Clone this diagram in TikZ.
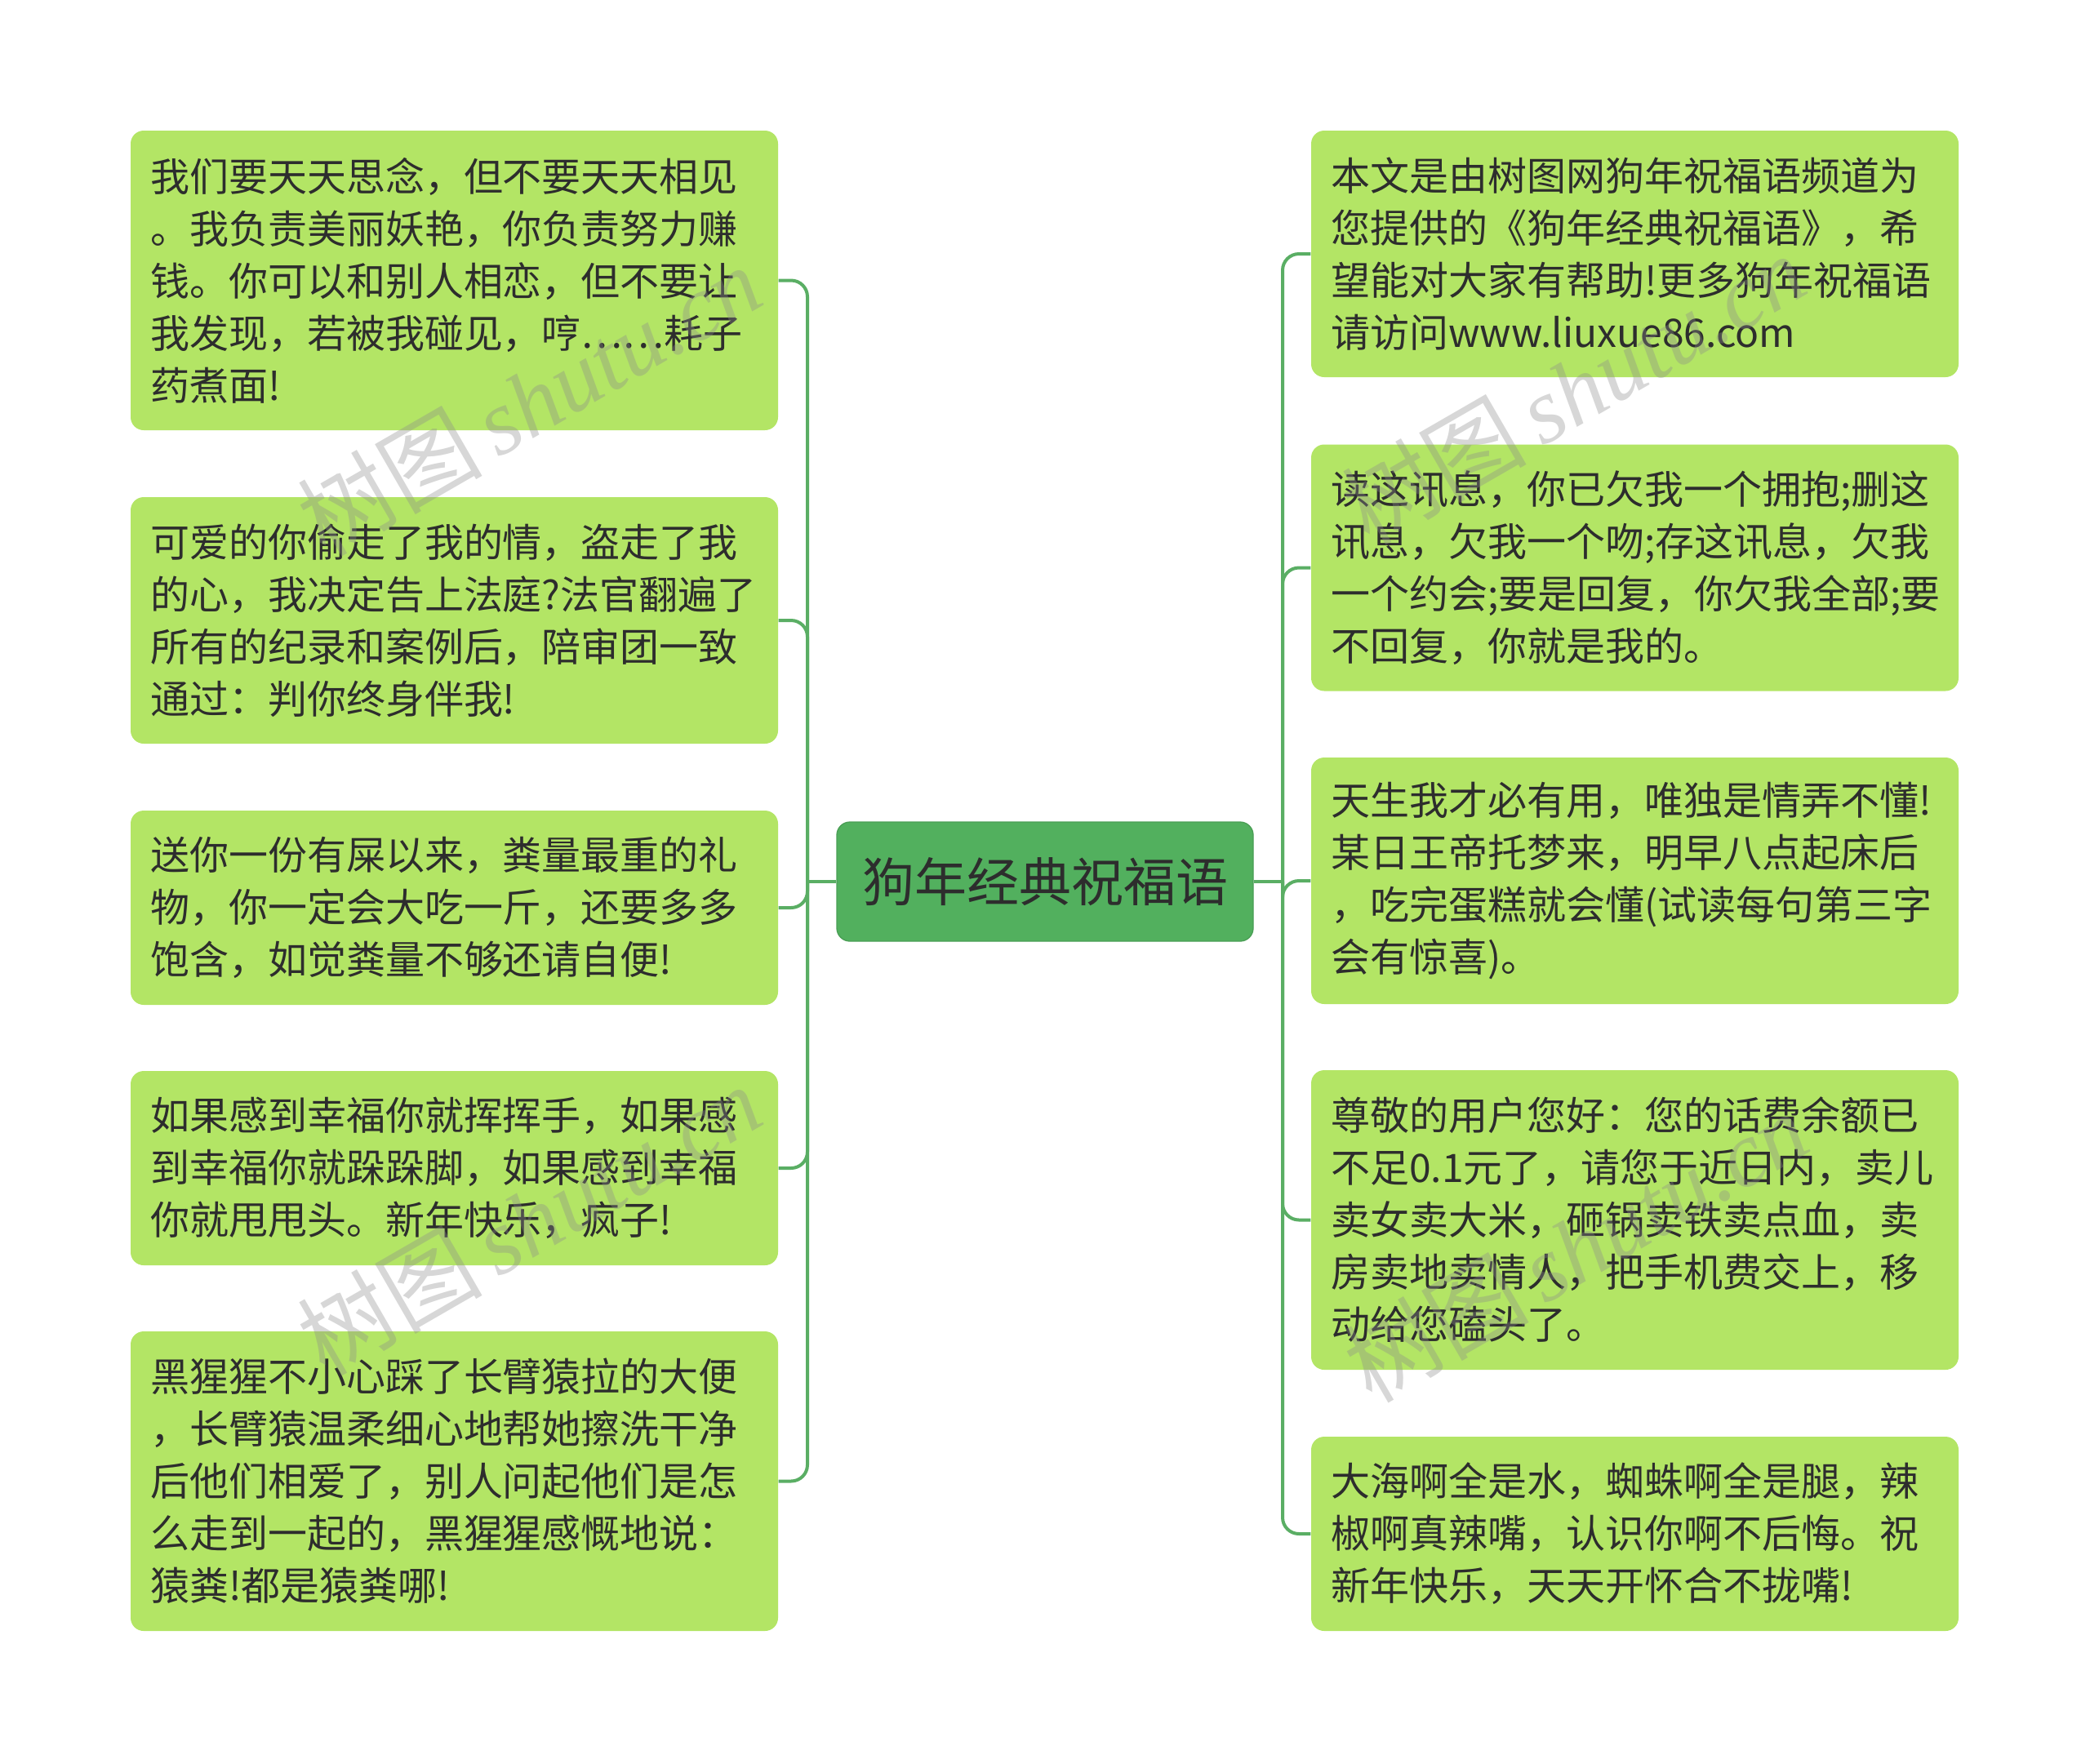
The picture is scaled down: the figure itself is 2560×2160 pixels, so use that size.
\documentclass[tikz,border=0pt]{standalone}
\usepackage{fontspec}
\setmainfont{Noto Sans CJK SC}
\newfontfamily\wmlatin{Liberation Serif}
\newfontfamily\wmcjk{Noto Sans CJK SC}
\definecolor{leaf}{HTML}{B3E565}
\definecolor{rootc}{HTML}{52B05E}
\definecolor{linkc}{HTML}{5AAE64}
\definecolor{txt}{HTML}{2D2D2D}
\tikzset{
  leafbox/.style={fill=leaf, rounded corners=4.8pt, text=txt, align=left,
    text width=223.5pt, inner xsep=7.2pt, inner ysep=0pt,
    font=\fontsize{14.4pt}{19.2pt}\selectfont},
  rootbox/.style={fill=rootc, draw=rootc!90!black, line width=0.4pt, rounded corners=4.8pt, text=txt,
    minimum width=153pt, minimum height=43.8pt, inner sep=0pt,
    font=\fontsize{19.2pt}{24pt}\selectfont},
  link/.style={draw=linkc, line width=1.2pt},
  elbow/.style={link, rounded corners=6pt},
  wmark/.style={rotate=30, text=black!45, opacity=0.35, inner sep=0pt,
    font=\fontsize{34pt}{40pt}\selectfont}
}
\begin{document}
\begin{tikzpicture}[x=0.3pt,y=-0.3pt]
\useasboundingbox (0,0) rectangle (2560,2160);

\node[rootbox] (root) at (1280,1080) {狗年经典祝福语};

\node[leafbox, minimum height=110.1pt] (L1) at (556.5,343.5) {我们要天天思念，但不要天天相见\\。我负责美丽妖艳，你负责努力赚\\钱。你可以和别人相恋，但不要让\\我发现，若被我碰见，哼……耗子\\药煮面!};
\node[leafbox, minimum height=90.6pt] (L2) at (556.5,760) {可爱的你偷走了我的情，盗走了我\\的心，我决定告上法庭?法官翻遍了\\所有的纪录和案例后，陪审团一致\\通过：判你终身伴我!};
\node[leafbox, minimum height=71.4pt] (L3) at (556.5,1112) {送你一份有屎以来，粪量最重的礼\\物，你一定会大吃一斤，还要多多\\饱含，如觉粪量不够还请自便!};
\node[leafbox, minimum height=71.4pt] (L4) at (556.5,1431) {如果感到幸福你就挥挥手，如果感\\到幸福你就跺跺脚，如果感到幸福\\你就甩甩头。新年快乐，疯子!};
\node[leafbox, minimum height=110.1pt] (L5) at (556.5,1814.5) {黑猩猩不小心踩了长臂猿拉的大便\\，长臂猿温柔细心地帮她擦洗干净\\后他们相爱了，别人问起他们是怎\\么走到一起的，黑猩猩感慨地说：\\猿粪!都是猿粪哪!};

\node[leafbox, minimum height=90.6pt] (R1) at (2002.5,311) {本文是由树图网狗年祝福语频道为\\您提供的《狗年经典祝福语》，希\\望能对大家有帮助!更多狗年祝福语\\请访问www.liuxue86.com};
\node[leafbox, minimum height=90.6pt] (R2) at (2002.5,695.5) {读这讯息，你已欠我一个拥抱;删这\\讯息，欠我一个吻;存这讯息，欠我\\一个约会;要是回复，你欠我全部;要\\不回复，你就是我的。};
\node[leafbox, minimum height=90.6pt] (R3) at (2002.5,1079) {天生我才必有用，唯独是情弄不懂!\\某日王帝托梦来，明早八点起床后\\，吃完蛋糕就会懂(试读每句第三字\\会有惊喜)。};
\node[leafbox, minimum height=110.1pt] (R4) at (2002.5,1494.5) {尊敬的用户您好：您的话费余额已\\不足0.1元了，请您于近日内，卖儿\\卖女卖大米，砸锅卖铁卖点血，卖\\房卖地卖情人，把手机费交上，移\\动给您磕头了。};
\node[leafbox, minimum height=71.4pt] (R5) at (2002.5,1879) {大海啊全是水，蜘蛛啊全是腿，辣\\椒啊真辣嘴，认识你啊不后悔。祝\\新年快乐，天天开怀合不拢嘴!};

\coordinate (lt) at (989,1080);
\coordinate (rt) at (1571,1080);
\draw[link] (root.west) -- (lt);
\draw[link] (root.east) -- (rt);
\foreach \n in {L1,L2,L3,L4,L5} \draw[elbow] (lt) |- (\n.east);
\foreach \n in {R1,R2,R3,R4,R5} \draw[elbow] (rt) |- (\n.west);

\node[wmark] (w1) at (648,490) {\wmcjk 树图\,\wmlatin\itshape shutu.cn};
\node[wmark] (w2) at (1927,476) {\wmcjk 树图\,\wmlatin\itshape shutu.cn};
\node[wmark] (w3) at (648,1494) {\wmcjk 树图\,\wmlatin\itshape shutu.cn};
\node[wmark] (w4) at (1930,1527) {\wmcjk 树图\,\wmlatin\itshape shutu.cn};
\end{tikzpicture}
\end{document}
